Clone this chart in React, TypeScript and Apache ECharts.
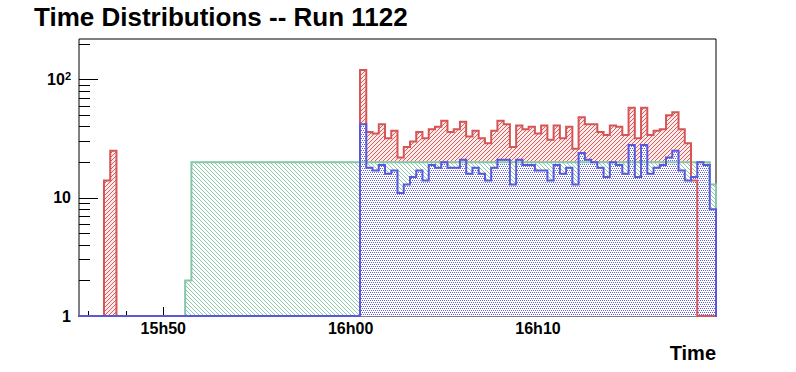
import React, { useEffect, useRef } from 'react';
import * as echarts from 'echarts';

const TITLE = 'Time Distributions -- Run 1122';
const X_TITLE = 'Time';
const BIN_START = '15:45:30';
const BIN_SECONDS = 20;

// counts per 20 s bin (102 bins, 15:45:30 -> 16:19:30)
const redCounts = [
  0, 0, 0, 0, 14, 25, 0, 0, 0, 0,
  0, 0, 0, 0, 0, 0, 0, 0, 0, 0,
  0, 0, 0, 0, 0, 0, 0, 0, 0, 0,
  0, 0, 0, 0, 0, 0, 0, 0, 0, 0,
  0, 0, 0, 0, 0, 121, 36, 35, 42, 32,
  37, 22, 27, 30, 36, 32, 38, 40, 45, 36,
  38, 44, 33, 37, 32, 29, 37, 45, 42, 27,
  41, 38, 40, 35, 41, 31, 41, 32, 40, 26,
  48, 42, 42, 36, 34, 41, 40, 34, 58, 32,
  58, 34, 37, 38, 50, 53, 38, 29, 14, 0,
  0, 0,
];
const greenCounts = [
  0, 0, 0, 0, 0, 0, 0, 0, 0, 0,
  0, 0, 0, 0, 0, 0, 0, 2, 20, 20,
  20, 20, 20, 20, 20, 20, 20, 20, 20, 20,
  20, 20, 20, 20, 20, 20, 20, 20, 20, 20,
  20, 20, 20, 20, 20, 20, 20, 20, 20, 20,
  20, 20, 20, 20, 20, 20, 20, 20, 20, 20,
  20, 20, 20, 20, 20, 20, 20, 20, 20, 20,
  20, 20, 20, 20, 20, 20, 20, 20, 20, 20,
  20, 20, 20, 20, 20, 20, 20, 20, 20, 20,
  20, 20, 20, 20, 20, 20, 20, 20, 20, 20,
  20, 13,
];
const blueCounts = [
  0, 0, 0, 0, 0, 0, 0, 0, 0, 0,
  0, 0, 0, 0, 0, 0, 0, 0, 0, 0,
  0, 0, 0, 0, 0, 0, 0, 0, 0, 0,
  0, 0, 0, 0, 0, 0, 0, 0, 0, 0,
  0, 0, 0, 0, 0, 42, 18, 17, 19, 16,
  17, 11, 13, 15, 17, 14, 19, 18, 20, 18,
  18, 21, 16, 18, 16, 14, 18, 21, 21, 13,
  21, 19, 19, 17, 17, 14, 19, 16, 18, 13,
  24, 21, 20, 18, 15, 20, 19, 16, 28, 15,
  28, 16, 18, 19, 22, 25, 17, 14, 15, 20,
  19, 8,
];

const xMajorTicks = ['15:50', '16:00', '16:10'];
const xMinorTicks = ['15:46', '15:48', '15:52', '15:54', '15:56', '15:58', '16:02', '16:04', '16:06', '16:08', '16:12', '16:14', '16:16', '16:18'];
const yMajorTicks = [1, 10, 100];
const yMinorTicks = [2, 3, 4, 5, 6, 7, 8, 9, 20, 30, 40, 50, 60, 70, 80, 90, 200];
const Y_MAX = 221;

const RED = '#d65656';
const RED_HATCH = '#dc5c5c';
const GREEN = '#84c6a6';
const GREEN_HATCH = '#8ccaab';
const BLUE = '#5858dc';
const BLUE_HATCH = '#6262e0';
const FONT = 'Liberation Sans';

function toSec(t: string): number {
  const p = t.split(':').map(Number);
  return p[0] * 3600 + p[1] * 60 + (p[2] || 0);
}

function histPoints(counts: number[]): number[][] {
  const x0 = toSec(BIN_START);
  const L = (v: number) => (v > 0 ? Math.log10(v) : 0);
  const pts: number[][] = [[x0, 0]];
  counts.forEach((v, k) => {
    pts.push([x0 + k * BIN_SECONDS, L(v)]);
    pts.push([x0 + (k + 1) * BIN_SECONDS, L(v)]);
  });
  pts.push([x0 + counts.length * BIN_SECONDS, 0]);
  return pts;
}

function makePattern(color: string, cells: number[][], w: number, h: number, bg: string) {
  const c = document.createElement('canvas');
  c.width = w;
  c.height = h;
  const ctx = c.getContext('2d')!;
  ctx.imageSmoothingEnabled = false;
  ctx.fillStyle = bg;
  ctx.fillRect(0, 0, w, h);
  ctx.fillStyle = color;
  cells.forEach(([x, y]) => ctx.fillRect(x, y, 1, 1));
  return { image: c, repeat: 'repeat', imageWidth: w, imageHeight: h } as any;
}

export default function App() {
  const ref = useRef<HTMLDivElement>(null);
  useEffect(() => {
    document.body.style.margin = '0';
    document.body.style.background = '#fff';
    const chart = echarts.init(ref.current!, null, { renderer: 'svg' });
    const xMin = toSec(BIN_START);
    const xMax = xMin + redCounts.length * BIN_SECONDS;
    const yMax = Math.log10(Y_MAX);
    const fmtTime = (v: number) => {
      const h = Math.floor(v / 3600);
      const m = Math.round((v % 3600) / 60);
      return `${h}h${String(m).padStart(2, '0')}`;
    };
    // "/" hatch for red, "\" hatch for green, dot grid for blue
    const redPat = makePattern(RED_HATCH, [[3, 0], [2, 1], [1, 2], [0, 3]], 4, 4, '#fcebeb');
    const greenPat = makePattern(GREEN_HATCH, [[0, 0], [1, 1], [2, 2], [3, 3]], 4, 4, '#ffffff');
    const bluePat = makePattern(BLUE_HATCH, [[0, 0], [2, 0], [1, 2], [3, 2]], 4, 4, '#ffffff');

    const red = histPoints(redCounts);
    const green = histPoints(greenCounts);
    const blue = histPoints(blueCounts);

    const areaSeries = (data: number[][], pat: any, z: number) => ({
      type: 'line', data, symbol: 'none', showSymbol: false, z,
      lineStyle: { opacity: 0, width: 0 },
      areaStyle: { color: pat, opacity: 1, origin: 'start' },
      silent: true,
    });
    const lineSeries = (data: number[][], color: string, z: number) => ({
      type: 'line', data, symbol: 'none', showSymbol: false, z,
      lineStyle: { color, width: 2, join: 'miter', cap: 'square' },
      silent: true,
    });

    chart.setOption({
      animation: false,
      backgroundColor: '#ffffff',
      title: [
        {
          text: TITLE, left: 34, top: 4, padding: 0,
          textStyle: { fontFamily: FONT, fontWeight: 'bold', fontSize: 26, color: '#000' },
        },
        {
          text: X_TITLE, right: 80, top: 343, padding: 0,
          textStyle: { fontFamily: FONT, fontWeight: 'bold', fontSize: 20, color: '#000' },
        },
      ],
      grid: {
        left: 79, top: 39, width: 637, height: 277,
        show: true, borderColor: '#000', borderWidth: 1, backgroundColor: 'transparent',
      },
      xAxis: [
        {
          type: 'value', min: xMin, max: xMax, position: 'bottom',
          axisLine: { show: false },
          splitLine: { show: false },
          axisTick: { show: true, inside: true, length: 9, lineStyle: { color: '#000', width: 1 }, customValues: xMajorTicks.map(toSec) },
          axisLabel: {
            show: true, customValues: xMajorTicks.map(toSec), formatter: fmtTime, margin: 4,
            fontFamily: FONT, fontWeight: 'bold', fontSize: 16, color: '#000',
          },
        },
        {
          type: 'value', min: xMin, max: xMax, position: 'bottom',
          axisLine: { show: false },
          splitLine: { show: false },
          axisTick: { show: true, inside: true, length: 5, lineStyle: { color: '#000', width: 1 }, customValues: xMinorTicks.map(toSec) },
          axisLabel: { show: false },
        },
      ],
      yAxis: [
        {
          type: 'value', min: 0, max: yMax, position: 'left',
          axisLine: { show: false },
          splitLine: { show: false },
          axisTick: { show: true, inside: true, length: 19, lineStyle: { color: '#000', width: 1 }, customValues: yMajorTicks.map(Math.log10) },
          axisLabel: {
            show: true, customValues: yMajorTicks.map(Math.log10), margin: 8,
            formatter: (v: number) => {
              const e = Math.round(v);
              if (e === 0) return '{b|1}';
              if (e === 1) return '{b|10}';
              return `{b|10}{s|${e}}`;
            },
            rich: {
              b: { fontFamily: FONT, fontWeight: 'bold', fontSize: 16, color: '#000' },
              s: { fontFamily: FONT, fontWeight: 'bold', fontSize: 11, color: '#000', verticalAlign: 'bottom', padding: [0, 0, 7, 0] },
            },
          },
        },
        {
          type: 'value', min: 0, max: yMax, position: 'left',
          axisLine: { show: false },
          splitLine: { show: false },
          axisTick: { show: true, inside: true, length: 11, lineStyle: { color: '#000', width: 1 }, customValues: yMinorTicks.map(Math.log10) },
          axisLabel: { show: false },
        },
      ],
      series: [
        areaSeries(red, redPat, 2),
        areaSeries(green, greenPat, 3),
        areaSeries(blue, bluePat, 4),
        lineSeries(green, GREEN, 5),
        lineSeries(red, RED, 6),
        lineSeries(blue, BLUE, 7),
      ],
    });
    return () => chart.dispose();
  }, []);
  return <div ref={ref} style={{ width: 796, height: 372 }} />;
}
